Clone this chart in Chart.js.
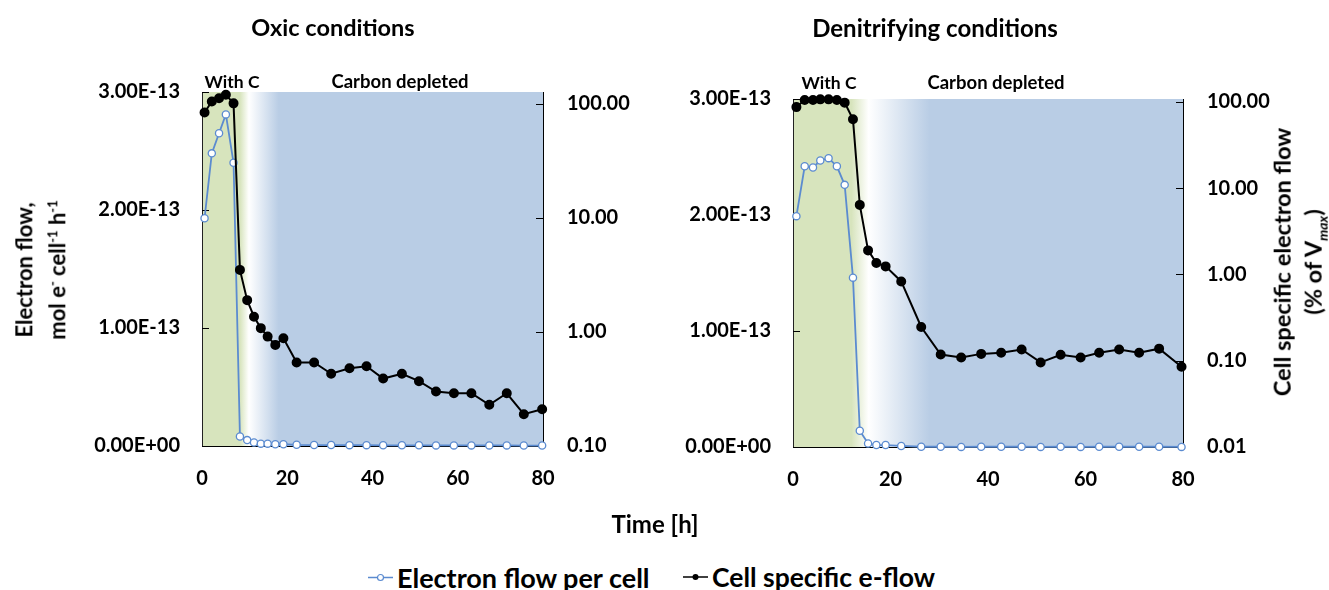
<!DOCTYPE html>
<html>
<head>
<meta charset="utf-8">
<script src="https://cdn.jsdelivr.net/npm/chart.js@4.4.0/dist/chart.umd.min.js"></script>
<style>
    body { margin: 0; background: #fff; }
    #wrap { position: relative; width: 1329px; height: 590px; overflow: hidden; font-family: Lato, "Open Sans", sans-serif; font-weight: bold; color: #000; }
    canvas { position: absolute; top: 0; }
    .lbl { position: absolute; white-space: nowrap; transform: translate(-50%, -50%); }
    .vt { position: absolute; white-space: nowrap; text-align: center; transform: translate(-50%, -50%) rotate(-90deg); }
    .leg { position: absolute; display: flex; align-items: center; transform: translateY(-50%); font-size: 27px; white-space: nowrap; }
    .leg svg { margin-right: 4px; }
</style>
</head>
<body>
<div id="wrap">
    <canvas id="oxicChart" width="650" height="510" style="left:0"></canvas>
    <canvas id="denitChart" width="679" height="510" style="left:650px"></canvas>

    <div class="lbl" style="left:333px;top:27px;font-size:23.5px">Oxic conditions</div>
    <div class="lbl" style="left:935px;top:27px;font-size:24px">Denitrifying conditions</div>

    <div class="lbl" style="left:232px;top:81px;font-size:17.5px">With C</div>
    <div class="lbl" style="left:400px;top:81px;font-size:18.5px">Carbon depleted</div>
    <div class="lbl" style="left:829px;top:82px;font-size:17.5px">With C</div>
    <div class="lbl" style="left:996px;top:82px;font-size:18.5px">Carbon depleted</div>

    <div class="vt" style="left:41px;top:270px;font-size:22px;line-height:28px">Electron flow,<br>mol e<sup style="font-size:13px">-</sup> cell<sup style="font-size:13px">-1</sup> h<sup style="font-size:13px">-1</sup></div>
    <div class="vt" style="left:1302px;top:262px;font-size:23.5px;line-height:31px">Cell specific electron flow<br>(% of V<sub style="font-size:14px"><i>max</i></sub>)</div>

    <div class="lbl" style="left:655px;top:523px;font-size:24px">Time [h]</div>

    <div class="leg" style="left:368px;top:577px">
        <svg width="25" height="12"><line x1="0" y1="6" x2="25" y2="6" stroke="#5B8BD0" stroke-width="1.5"/><circle cx="12.5" cy="6" r="3" fill="#fff" stroke="#5B8BD0" stroke-width="1.2"/></svg>Electron flow per cell
    </div>
    <div class="leg" style="left:683px;top:577px;font-size:26.5px">
        <svg width="25" height="12"><line x1="0" y1="6" x2="25" y2="6" stroke="#000" stroke-width="1.5"/><circle cx="12.5" cy="6" r="3" fill="#000"/></svg>Cell specific e-flow
    </div>
</div>

<script>
// time axis, hours
const timeTicks = [0, 20, 40, 60, 80];
const flowTicks = [0, 1e-13, 2e-13, 3e-13];

// Oxic conditions
const oxicTime = [0.6, 2.3, 4.0, 5.6, 7.4, 8.9, 10.6, 12.2, 13.8, 15.4, 17.2, 19.1, 22.2, 26.3, 30.3, 34.6, 38.6, 42.5, 46.9, 50.9, 54.9, 59.1, 63.2, 67.4, 71.5, 75.5, 79.8];
const oxicFlow = [1.93e-13, 2.48e-13, 2.65e-13, 2.81e-13, 2.40e-13, 0.08e-13, 0.05e-13, 0.03e-13, 0.02e-13, 0.02e-13, 0.015e-13, 0.015e-13, 0.01e-13, 0.008e-13, 0.008e-13, 0.007e-13, 0.007e-13, 0.006e-13, 0.006e-13, 0.006e-13, 0.005e-13, 0.005e-13, 0.005e-13, 0.005e-13, 0.005e-13, 0.004e-13, 0.004e-13];
const oxicCell = [84, 105, 112, 120, 101, 3.5, 1.9, 1.36, 1.08, 0.91, 0.77, 0.88, 0.54, 0.54, 0.43, 0.48, 0.50, 0.39, 0.43, 0.37, 0.30, 0.29, 0.29, 0.23, 0.29, 0.19, 0.21];
const oxicCellTicks = [0.1, 1, 10, 100];
// green ends, white, blue starts (hours)
const oxicPhases = [8.9, 11, 18];

// Denitrifying conditions
const denitTime = [0.7, 2.4, 4.1, 5.6, 7.3, 9.0, 10.6, 12.3, 13.7, 15.4, 17.1, 19.0, 22.2, 26.3, 30.3, 34.5, 38.6, 42.7, 46.9, 50.8, 54.9, 59.0, 62.8, 66.9, 71.0, 75.1, 79.7];
const denitFlow = [1.99e-13, 2.42e-13, 2.41e-13, 2.47e-13, 2.49e-13, 2.42e-13, 2.26e-13, 1.46e-13, 0.14e-13, 0.03e-13, 0.017e-13, 0.017e-13, 0.009e-13, 0.002e-13, 0.002e-13, 0.001e-13, 0.002e-13, 0.002e-13, 0.002e-13, 0.001e-13, 0.002e-13, 0.001e-13, 0.002e-13, 0.002e-13, 0.002e-13, 0.002e-13, 0.001e-13];
const denitCell = [87, 105, 105, 107, 107, 105, 98, 63, 6.4, 1.9, 1.36, 1.24, 0.83, 0.246, 0.118, 0.109, 0.120, 0.124, 0.135, 0.0955, 0.117, 0.109, 0.124, 0.135, 0.124, 0.138, 0.085];
const denitCellTicks = [0.01, 0.1, 1, 10, 100];
const denitPhases = [12, 15.5, 28];

const GREEN = "#D7E4BD";
const BLUE = "#B9CDE5";
const LINE_BLUE = "#5B8BD0";

Chart.defaults.font.family = "Lato, 'Open Sans', sans-serif";
Chart.defaults.font.weight = "bold";
Chart.defaults.color = "#000";

// "1.00E-13" style labels
function sciLabel(v) {
    if (v === 0) return "0.00E+00";
    const [m, e] = Number(v).toExponential(2).toUpperCase().split("E");
    const sign = e[0] === "-" ? "-" : "+";
    const digits = e.replace(/[+-]/, "").padStart(2, "0");
    return m + "E" + sign + digits;
}

// background: green (with C) fading through white into blue (carbon depleted)
const phaseShade = {
    id: "phaseShade",
    beforeDraw(chart, args, opts) {
        const { ctx, chartArea: a, scales } = chart;
        const x = scales.x;
        const w = a.right - a.left;
        const f = t => Math.min(1, Math.max(0, (x.getPixelForValue(t) - a.left) / w));
        const g = ctx.createLinearGradient(a.left, 0, a.right, 0);
        g.addColorStop(0, GREEN);
        g.addColorStop(f(opts.phases[0]), GREEN);
        g.addColorStop(f(opts.phases[1]), "#FFFFFF");
        g.addColorStop(f(opts.phases[2]), BLUE);
        g.addColorStop(1, BLUE);
        ctx.save();
        ctx.fillStyle = g;
        ctx.fillRect(a.left, a.top, w, a.bottom - a.top);
        ctx.restore();
    }
};

// short tick marks pointing into the plot
const innerTicks = {
    id: "innerTicks",
    beforeDatasetsDraw(chart) {
        const { ctx, chartArea: a, scales } = chart;
        ctx.save();
        ctx.strokeStyle = "#000";
        ctx.lineWidth = 1;
        scales.y.ticks.forEach(t => {
            const py = Math.round(scales.y.getPixelForValue(t.value)) + 0.5;
            ctx.beginPath(); ctx.moveTo(a.left, py); ctx.lineTo(a.left + 7, py); ctx.stroke();
        });
        scales.y1.ticks.forEach(t => {
            const py = Math.round(scales.y1.getPixelForValue(t.value)) + 0.5;
            ctx.beginPath(); ctx.moveTo(a.right - 7, py); ctx.lineTo(a.right, py); ctx.stroke();
        });
        ctx.restore();
    }
};

function makeChart(id, time, flow, cell, cellTicks, cellMax, phases, box) {
    const ctx = document.getElementById(id).getContext("2d");
    return new Chart(ctx, {
        type: "line",
        data: {
            datasets: [
                {
                    label: "Electron flow per cell",
                    data: time.map((t, i) => ({ x: t, y: flow[i] })),
                    yAxisID: "y",
                    borderColor: LINE_BLUE,
                    borderWidth: 1.8,
                    pointRadius: 3.6,
                    pointBorderWidth: 1.3,
                    pointBackgroundColor: "#fff",
                    pointBorderColor: LINE_BLUE,
                    tension: 0,
                    clip: 8,
                    order: 2
                },
                {
                    label: "Cell specific e-flow",
                    data: time.map((t, i) => ({ x: t, y: cell[i] })),
                    yAxisID: "y1",
                    borderColor: "#000",
                    borderWidth: 2,
                    pointRadius: 4,
                    pointBackgroundColor: "#000",
                    pointBorderColor: "#000",
                    tension: 0,
                    clip: 8,
                    order: 1
                }
            ]
        },
        options: {
            responsive: false,
            animation: false,
            layout: { padding: { top: box.top, left: 0, right: 0, bottom: 0 } },
            plugins: {
                legend: { display: false },
                tooltip: { enabled: false },
                phaseShade: { phases: phases }
            },
            scales: {
                x: {
                    type: "linear",
                    min: 0,
                    max: 80,
                    afterBuildTicks: s => { s.ticks = timeTicks.map(v => ({ value: v })); },
                    afterFit: s => { s.height = box.xh; },
                    grid: { display: false, drawTicks: false },
                    border: { display: true, color: "#000", width: 1 },
                    ticks: { padding: 21, font: { size: 20, weight: "bold" }, maxRotation: 0 }
                },
                y: {
                    type: "linear",
                    position: "left",
                    min: 0,
                    max: 3e-13,
                    afterBuildTicks: s => { s.ticks = flowTicks.map(v => ({ value: v })); },
                    afterFit: s => { s.width = box.left; },
                    grid: { drawOnChartArea: false, drawTicks: false },
                    border: { display: true, color: "#222", width: 1 },
                    ticks: { padding: 22, font: { size: 20, weight: "bold" }, callback: v => sciLabel(v) }
                },
                y1: {
                    type: "logarithmic",
                    position: "right",
                    min: cellTicks[0],
                    max: cellMax,
                    afterBuildTicks: s => { s.ticks = cellTicks.map(v => ({ value: v })); },
                    afterFit: s => { s.width = box.right; },
                    grid: { drawOnChartArea: false, drawTicks: false },
                    border: { display: true, color: "#000", width: 1 },
                    ticks: { padding: 24, font: { size: 20, weight: "bold" }, callback: v => Number(v).toFixed(2) }
                }
            }
        },
        plugins: [phaseShade, innerTicks]
    });
}

makeChart("oxicChart", oxicTime, oxicFlow, oxicCell, oxicCellTicks, 127, oxicPhases,
    { top: 92, left: 202, right: 107, xh: 64 });
makeChart("denitChart", denitTime, denitFlow, denitCell, denitCellTicks, 108, denitPhases,
    { top: 99, left: 143, right: 146, xh: 63 });
</script>
</body>
</html>
